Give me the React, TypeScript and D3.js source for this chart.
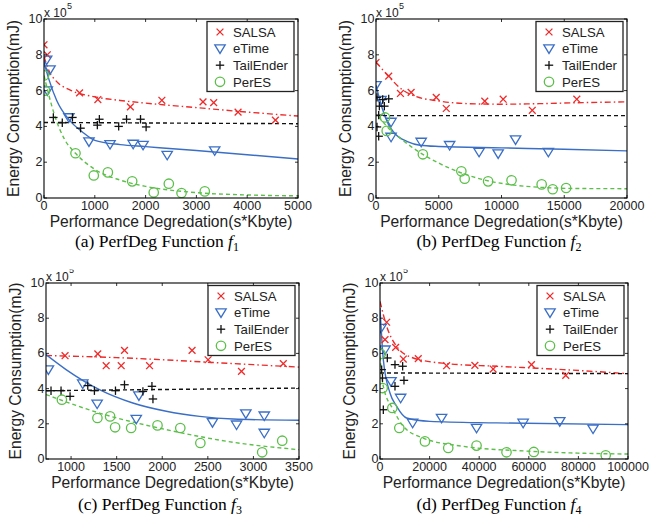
import * as d3 from "d3";

type Pt = [number, number];

const seriesNames = ["SALSA", "eTime", "TailEnder", "PerES"];
const yTicks = [0, 2, 4, 6, 8, 10];

// (a) PerfDeg f1
const xTicksA = [0, 1000, 2000, 3000, 4000, 5000];
const salsaA: Pt[] = [[0, 8.56], [65, 8.0], [700, 5.87], [1060, 5.5], [1700, 5.09], [2320, 5.46], [3130, 5.37], [3340, 5.33], [3820, 4.8], [4555, 4.35]];
const etimeA: Pt[] = [[52, 7.72], [118, 7.17], [65, 6.0], [490, 4.5], [885, 3.15], [1300, 3.0], [1755, 3.02], [1950, 2.96], [2425, 2.4], [3360, 2.65]];
const tailA: Pt[] = [[184, 4.5], [360, 4.2], [560, 4.5], [720, 3.9], [1050, 4.07], [1090, 4.4], [1470, 4.0], [1625, 4.4], [1900, 4.4], [2010, 3.97]];
const peresA: Pt[] = [[0, 6.85], [20, 6.0], [620, 2.5], [980, 1.26], [1257, 1.43], [1736, 0.93], [2160, 0.31], [2457, 0.8], [2707, 0.28], [3165, 0.37]];
const salsaFitA: Pt[] = [[0, 7.9], [100, 7.1], [250, 6.5], [500, 6.05], [1000, 5.65], [1500, 5.45], [2000, 5.3], [3000, 5.05], [4000, 4.8], [5000, 4.58]];
const etimeFitA: Pt[] = [[0, 7.6], [100, 6.6], [250, 5.45], [500, 4.35], [750, 3.7], [1000, 3.22], [1500, 2.98], [2000, 2.87], [3000, 2.65], [4000, 2.42], [5000, 2.18]];
const tailFitA: Pt[] = [[0, 4.22], [5000, 4.15]];
const peresFitA: Pt[] = [[0, 6.85], [100, 5.7], [200, 4.7], [400, 3.3], [620, 2.5], [1000, 1.6], [1500, 1.0], [2000, 0.65], [3000, 0.3], [4000, 0.17], [5000, 0.12]];

// (b) PerfDeg f2
const xTicksB = [0, 5000, 10000, 15000, 20000];
const salsaB: Pt[] = [[0, 7.57], [1013, 6.81], [1947, 5.84], [2800, 5.9], [4800, 5.62], [5600, 5.0], [8667, 5.41], [10133, 5.52], [12453, 4.9], [16000, 5.52]];
const etimeB: Pt[] = [[0, 6.3], [400, 5.47], [1200, 4.25], [1200, 3.41], [3600, 3.13], [5867, 2.95], [8213, 2.57], [9733, 2.48], [11120, 3.26], [13733, 2.57]];
const tailB: Pt[] = [[80, 5.62], [533, 5.5], [1013, 5.54], [267, 5.13], [667, 5.13], [213, 4.63], [80, 3.97], [213, 3.45]];
const peresB: Pt[] = [[720, 4.5], [853, 3.75], [3733, 2.44], [6800, 1.49], [7067, 1.08], [8933, 0.93], [10800, 0.99], [13200, 0.76], [14080, 0.49], [15147, 0.56]];
const salsaFitB: Pt[] = [[0, 7.6], [1000, 6.8], [2000, 6.1], [3000, 5.72], [5000, 5.42], [7000, 5.28], [10000, 5.24], [13000, 5.27], [16000, 5.32], [20000, 5.37]];
const etimeFitB: Pt[] = [[0, 6.3], [500, 5.0], [1000, 4.1], [1500, 3.6], [2500, 3.15], [3500, 2.95], [5000, 2.88], [10000, 2.8], [15000, 2.72], [20000, 2.63]];
const tailFitB: Pt[] = [[0, 4.6], [20000, 4.6]];
const peresFitB: Pt[] = [[200, 4.55], [1000, 3.9], [2000, 3.3], [3700, 2.45], [5000, 1.95], [7000, 1.35], [9000, 0.95], [11000, 0.72], [13000, 0.6], [16000, 0.53], [20000, 0.52]];

// (c) PerfDeg f3
const xTicksC = [1000, 1500, 2000, 2500, 3000, 3500];
const salsaC: Pt[] = [[934, 5.87], [1293, 5.97], [1385, 5.3], [1550, 5.3], [1586, 6.17], [1861, 5.3], [2327, 6.17], [2503, 5.64], [2869, 4.98], [3328, 5.42]];
const etimeC: Pt[] = [[751, 5.08], [1128, 4.28], [1286, 3.14], [1744, 3.6], [1715, 2.27], [2551, 2.08], [2815, 1.95], [2917, 2.58], [3119, 2.46], [3119, 1.48]];
const tailC: Pt[] = [[780, 3.88], [890, 3.88], [989, 3.56], [1183, 4.17], [1256, 3.88], [1487, 3.88], [1586, 4.22], [1788, 3.84], [1887, 4.13], [1898, 3.41]];
const peresC: Pt[] = [[899, 3.37], [1289, 2.33], [1428, 2.42], [1483, 1.8], [1659, 1.76], [1948, 1.91], [2198, 1.76], [2418, 0.91], [3096, 0.38], [3316, 1.04]];
const salsaFitC: Pt[] = [[725, 5.88], [1500, 5.76], [2000, 5.64], [2500, 5.5], [3000, 5.36], [3500, 5.22]];
const etimeFitC: Pt[] = [[725, 5.93], [945, 5.08], [1311, 3.94], [1677, 3.18], [2044, 2.71], [2410, 2.42], [2777, 2.27], [3500, 2.2]];
const tailFitC: Pt[] = [[725, 3.88], [3500, 4.03]];
const peresFitC: Pt[] = [[725, 3.66], [1311, 2.61], [2044, 1.67], [2777, 0.95], [3500, 0.53]];

// (d) PerfDeg f4
const xTicksD = [0, 20000, 40000, 60000, 80000, 100000];
const salsaD: Pt[] = [[2685, 7.77], [2013, 6.78], [6309, 6.34], [9396, 5.68], [15436, 5.7], [26846, 5.3], [38255, 5.32], [45638, 5.11], [61074, 5.36], [74899, 4.75]];
const etimeD: Pt[] = [[403, 7.44], [2013, 6.21], [4430, 4.41], [8322, 3.47], [13154, 2.05], [24832, 2.33], [38926, 1.76], [57718, 2.05], [72483, 2.14], [85906, 1.72]];
const tailD: Pt[] = [[671, 5.08], [1000, 4.6], [1342, 2.8], [2953, 5.74], [6040, 5.36], [9127, 5.27], [6040, 4.13], [9664, 4.47]];
const peresD: Pt[] = [[268, 5.97], [1074, 4.03], [4966, 2.9], [7785, 1.76], [18121, 1.0], [27517, 0.63], [38926, 0.76], [51007, 0.38], [62013, 0.4], [91007, 0.21]];
const salsaFitD: Pt[] = [[0, 8.96], [2685, 7.54], [6711, 6.4], [13423, 5.74], [26846, 5.42], [46980, 5.27], [73826, 5.08], [100000, 4.85]];
const etimeFitD: Pt[] = [[0, 8.58], [1342, 5.64], [4027, 3.75], [6711, 2.99], [10738, 2.33], [20134, 2.14], [46980, 2.05], [100000, 1.95]];
const tailFitD: Pt[] = [[0, 4.89], [100000, 4.85]];
const peresFitD: Pt[] = [[0, 5.83], [1342, 4.13], [5369, 2.8], [9396, 1.86], [17450, 1.19], [33557, 0.72], [60403, 0.44], [100000, 0.28]];

const RED = "#ee2b2b";
const BLUE = "#3b6fc6";
const GREEN = "#5cbf4a";
const BLACK = "#111";
const colors = [RED, BLUE, BLACK, GREEN];
const kinds = ["x", "v", "+", "o"];
const dashes = ["6,3,1.5,3", "", "4,3", "4,3"];

const SANS = "'Liberation Sans', Arial, Helvetica, sans-serif";
const SERIF = "'Liberation Serif', 'Times New Roman', serif";

const panels = [
  { id: "a", sub: "1", L: 44, R: 298, T: 19, B: 198, capX: 157, capY: 247, domain: [0, 5000], ticks: xTicksA,
    pts: [salsaA, etimeA, tailA, peresA], fits: [salsaFitA, etimeFitA, tailFitA, peresFitA] },
  { id: "b", sub: "2", L: 376, R: 627, T: 19, B: 198, capX: 499, capY: 247, domain: [0, 20000], ticks: xTicksB,
    pts: [salsaB, etimeB, tailB, peresB], fits: [salsaFitB, etimeFitB, tailFitB, peresFitB] },
  { id: "c", sub: "3", L: 46, R: 299, T: 283, B: 459, capX: 160, capY: 510, domain: [725, 3500], ticks: xTicksC,
    pts: [salsaC, etimeC, tailC, peresC], fits: [salsaFitC, etimeFitC, tailFitC, peresFitC] },
  { id: "d", sub: "4", L: 380, R: 628, T: 283, B: 459, capX: 499, capY: 510, domain: [0, 100000], ticks: xTicksD,
    pts: [salsaD, etimeD, tailD, peresD], fits: [salsaFitD, etimeFitD, tailFitD, peresFitD] },
];

function Marker({ kind, x, y, color }: { kind: string; x: number; y: number; color: string }) {
  const sw = 1.3;
  if (kind === "x") {
    const s = 3.4;
    return (
      <g stroke={color} strokeWidth={sw}>
        <line x1={x - s} y1={y - s} x2={x + s} y2={y + s} />
        <line x1={x - s} y1={y + s} x2={x + s} y2={y - s} />
      </g>
    );
  }
  if (kind === "+") {
    const s = 4.2;
    return (
      <g stroke={color} strokeWidth={sw}>
        <line x1={x - s} y1={y} x2={x + s} y2={y} />
        <line x1={x} y1={y - s} x2={x} y2={y + s} />
      </g>
    );
  }
  if (kind === "v") {
    return (
      <path d={`M${x - 5.2},${y - 3.7}L${x + 5.2},${y - 3.7}L${x},${y + 4.8}Z`} fill="none" stroke={color} strokeWidth={sw} />
    );
  }
  return <circle cx={x} cy={y} r={4.7} fill="none" stroke={color} strokeWidth={sw} />;
}

function Panel({ p }: { p: (typeof panels)[number] }) {
  const x = d3.scaleLinear().domain(p.domain).range([p.L, p.R]);
  const y = d3.scaleLinear().domain([0, 10]).range([p.B, p.T]);
  const line = d3
    .line<Pt>()
    .x((d) => x(d[0]))
    .y((d) => y(d[1]))
    .curve(d3.curveMonotoneX);
  const tk = 3;
  const lgR = p.R - 4;
  const lgL = p.R - 91;
  const lgT = p.T + 2.5;
  const midY = (p.T + p.B) / 2;
  return (
    <g>
      <defs>
        <clipPath id={`clip-${p.id}`}>
          <rect x={p.L} y={p.T} width={p.R - p.L} height={p.B - p.T} />
        </clipPath>
      </defs>
      <rect x={p.L} y={p.T} width={p.R - p.L} height={p.B - p.T} fill="#fff" />
      <g clipPath={`url(#clip-${p.id})`}>
        {p.fits.map((f, i) => (
          <path key={i} d={line(f) ?? ""} fill="none" stroke={colors[i]} strokeWidth={1.4} strokeDasharray={dashes[i]} />
        ))}
        {p.pts.map((s, i) =>
          s.map((d, j) => <Marker key={`${i}-${j}`} kind={kinds[i]} x={x(d[0])} y={y(d[1])} color={colors[i]} />)
        )}
      </g>
      {/* ticks, inward on all four sides */}
      <g stroke="#000" strokeWidth={0.8}>
        {p.ticks.map((t) => (
          <g key={t}>
            <line x1={x(t)} x2={x(t)} y1={p.B} y2={p.B - tk} />
            <line x1={x(t)} x2={x(t)} y1={p.T} y2={p.T + tk} />
          </g>
        ))}
        {yTicks.map((t) => (
          <g key={t}>
            <line x1={p.L} x2={p.L + tk} y1={y(t)} y2={y(t)} />
            <line x1={p.R} x2={p.R - tk} y1={y(t)} y2={y(t)} />
          </g>
        ))}
      </g>
      <rect x={p.L} y={p.T} width={p.R - p.L} height={p.B - p.T} fill="none" stroke="#000" strokeWidth={1.1} />
      <g fontFamily={SANS} fontSize={12.5} fill="#222">
        {p.ticks.map((t) => (
          <text key={t} x={x(t)} y={p.B + 12.3} textAnchor="middle">
            {t}
          </text>
        ))}
        {yTicks.map((t) => (
          <text key={t} x={p.L - 1.5} y={y(t) - 0.5} dy="0.36em" textAnchor="end">
            {t}
          </text>
        ))}
        <text x={p.L} y={p.T - 2.5} fontSize={12}>
          x 10
        </text>
        <text x={p.L + 23} y={p.T - 10.5} fontSize={9}>
          5
        </text>
      </g>
      <text x={(p.L + p.R) / 2} y={p.B + 28.5} textAnchor="middle" fontFamily={SANS} fontSize={15.6} fill="#222">
        Performance Degredation(s*Kbyte)
      </text>
      <text
        transform={`translate(${p.L - 25},${midY}) rotate(-90)`}
        textAnchor="middle"
        fontFamily={SANS}
        fontSize={15.6}
        fill="#222"
      >
        Energy Consumption(mJ)
      </text>
      {/* legend */}
      <rect x={lgL} y={lgT} width={lgR - lgL} height={70} fill="#fff" stroke="#222" strokeWidth={1.3} />
      {seriesNames.map((n, i) => {
        const ly = lgT + 10.5 + i * 16.6;
        return (
          <g key={n}>
            <Marker kind={kinds[i]} x={lgL + 13} y={ly} color={colors[i]} />
            <text x={lgL + 26} y={ly} dy="0.36em" fontFamily={SANS} fontSize={13.2} fill="#222">
              {n}
            </text>
          </g>
        );
      })}
      <text x={p.capX} y={p.capY} textAnchor="middle" fontFamily={SERIF} fontSize={17.5} fill="#000">
        ({p.id}) PerfDeg Function <tspan fontStyle="italic">f</tspan>
        <tspan fontSize={12} dy={4}>
          {p.sub}
        </tspan>
      </text>
    </g>
  );
}

export default function App() {
  return (
    <svg width={649} height={527} style={{ position: "absolute", left: 0, top: 0, background: "#fff" }}>
      <rect width={649} height={527} fill="#fff" />
      {panels.map((p) => (
        <Panel key={p.id} p={p} />
      ))}
      {/* the lower row's figures are cropped just above their exponent */}
      <rect x={0} y={253} width={649} height={16.5} fill="#fff" />
    </svg>
  );
}
